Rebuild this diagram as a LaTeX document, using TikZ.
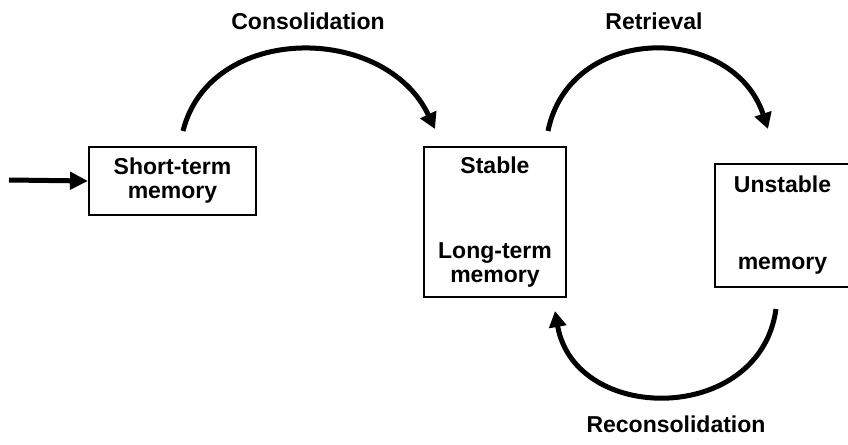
\documentclass[tikz,border=0pt]{standalone}
\usepackage{fontspec}
\setmainfont{Liberation Sans}
\usetikzlibrary{arrows.meta,positioning,calc}

\begin{document}
\begin{tikzpicture}[x=0.5pt, y=0.5pt,
    font=\fontsize{11.5}{12}\selectfont\bfseries,
    mem/.style={draw, line width=1pt, align=center, inner sep=0pt},
    flow/.style={line width=2.5pt, -{Triangle[length=8pt,width=8.5pt]}}
  ]
    \useasboundingbox (0,0) rectangle (848,445);

    % Memory stores
    \node[mem, minimum width=83.5pt, minimum height=34pt] (stm) at (172.5,264)
      {Short-term\\memory};
    \node[mem, minimum width=71pt, minimum height=75pt] (stable) at (495,223)
      {Stable\\[30.5pt]Long-term\\memory};
    \node[mem, minimum width=67.5pt, minimum height=61.5pt] (unstable) at (782.5,219.5)
      {Unstable\\[26.5pt]memory};

    % Input
    \coordinate (input) at (9,265);
    \draw[flow, -{Triangle[length=9pt,width=8.5pt]}] (input) -- (stm.west);

    % Consolidation
    \draw[flow] ($(stm.north)+(10.5,15)$)
      .. controls (210,422) and (385,422) .. ($(stable.north)+(-60,17)$);
    \node (cons) at (308,424) {Consolidation};

    % Retrieval
    \draw[flow] ($(stable.north)+(53,15)$)
      .. controls (570,422) and (733,422) .. ($(unstable.north)+(-14.5,34)$);
    \node (retr) at (654,424) {Retrieval};

    % Reconsolidation
    \draw[flow] ($(unstable.south)+(-6.5,-21)$)
      .. controls (760,20) and (575,20) .. ($(stable.south)+(60,-13)$);
    \node (recons) at (676,21) {Reconsolidation};
\end{tikzpicture}
\end{document}
